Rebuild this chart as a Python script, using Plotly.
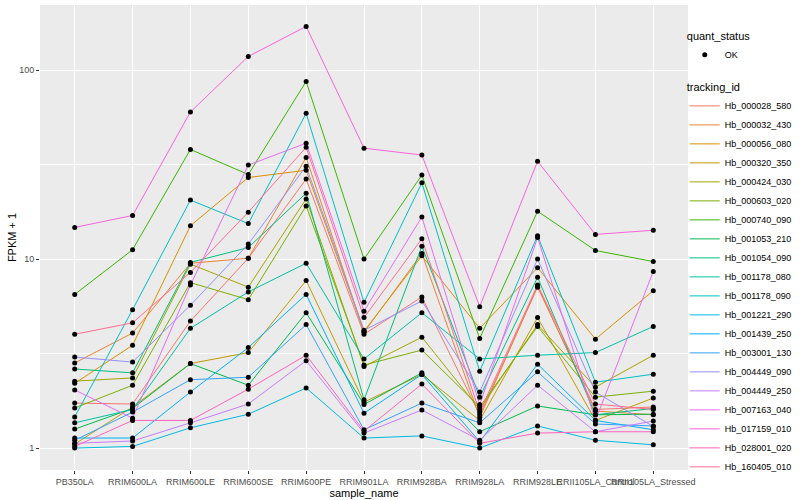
import plotly.graph_objects as go

samples = ["PB350LA", "RRIM600LA", "RRIM600LE", "RRIM600SE", "RRIM600PE",
           "RRIM901LA", "RRIM928BA", "RRIM928LA", "RRIM928LE",
           "RRII105LA_Control", "RRII105LA_Stressed"]

tracking_ids = ["Hb_000028_580", "Hb_000032_430", "Hb_000056_080", "Hb_000320_350",
                "Hb_000424_030", "Hb_000603_020", "Hb_000740_090", "Hb_001053_210",
                "Hb_001054_090", "Hb_001178_080", "Hb_001178_090", "Hb_001221_290",
                "Hb_001439_250", "Hb_003001_130", "Hb_004449_090", "Hb_004449_250",
                "Hb_007163_040", "Hb_017159_010", "Hb_028001_020", "Hb_160405_010"]

colors = ["#F8766D", "#EA8331", "#D89000", "#C09B00", "#A3A500", "#7CAE00",
          "#39B600", "#00BB4E", "#00BF7D", "#00C1A3", "#00BFC4", "#00BAE0",
          "#00B0F6", "#35A2FF", "#9590FF", "#C77CFF", "#E76BF3", "#FA62DB",
          "#FF62BC", "#FF6C91"]

# FPKM + 1 per sample (order of `samples`)
hb_000028_580 = [1.73, 1.71, 4.7, 10.1, 26.5, 4.0, 6.3, 1.5, 7.1, 1.6, 1.65]
hb_000032_430 = [2.82, 4.06, 9.5, 10.1, 34.5, 4.1, 10.7, 1.45, 7.2, 1.57, 1.5]
hb_000056_080 = [2.2, 3.5, 15.0, 27.0, 29.5, 4.15, 10.4, 4.3, 9.0, 3.77, 6.8]
hb_000320_350 = [1.05, 1.65, 2.8, 3.2, 7.7, 1.75, 2.45, 1.4, 4.9, 1.4, 1.84]
hb_000424_030 = [2.26, 2.35, 9.4, 7.1, 20.8, 2.7, 3.86, 1.6, 4.5, 2.1, 3.1]
hb_000603_020 = [1.63, 2.15, 7.5, 6.1, 19.1, 2.75, 3.3, 1.65, 4.4, 1.86, 2.0]
hb_000740_090 = [6.5, 11.2, 38.0, 28.0, 87.0, 10.0, 27.8, 3.8, 17.9, 11.1, 9.7]
hb_001053_210 = [1.26, 1.62, 2.8, 2.15, 5.2, 1.7, 2.5, 1.22, 1.67, 1.5, 1.51]
hb_001054_090 = [2.62, 2.5, 9.6, 11.5, 22.3, 1.8, 11.7, 1.86, 8.0, 1.5, 1.62]
hb_001178_080 = [1.36, 1.6, 4.3, 6.7, 9.5, 2.96, 5.2, 2.96, 3.1, 3.2, 4.4]
hb_001178_090 = [1.46, 5.4, 20.5, 15.4, 59.0, 5.9, 25.3, 2.55, 13.3, 2.23, 2.46]
hb_001221_290 = [1.0, 1.02, 1.28, 1.51, 2.08, 1.13, 1.16, 1.0, 1.31, 1.1, 1.04]
hb_001439_250 = [1.13, 1.13, 1.98, 3.4, 6.5, 1.53, 2.45, 1.08, 2.78, 1.4, 1.25]
hb_003001_130 = [1.1, 1.55, 2.3, 2.37, 4.5, 1.25, 1.73, 1.36, 2.53, 1.34, 1.31]
hb_004449_090 = [3.03, 2.85, 5.7, 12.0, 31.0, 4.2, 6.0, 1.98, 10.0, 1.98, 1.3]
hb_004449_250 = [1.06, 1.09, 1.36, 1.71, 2.9, 1.2, 1.59, 1.1, 2.15, 1.22, 1.39]
hb_007163_040 = [2.03, 1.44, 7.3, 31.4, 41.0, 5.3, 16.7, 1.7, 13.0, 1.4, 8.6]
hb_017159_010 = [14.7, 17.0, 60.0, 118.0, 170.0, 38.6, 35.5, 5.6, 32.9, 13.5, 14.2]
hb_028001_020 = [1.02, 1.4, 1.4, 2.05, 3.1, 1.23, 2.18, 1.06, 1.2, 1.22, 1.22]
hb_160405_010 = [4.0, 4.6, 8.5, 17.7, 39.0, 4.9, 12.8, 1.55, 7.3, 1.71, 1.6]

series_values = [hb_000028_580, hb_000032_430, hb_000056_080, hb_000320_350,
                 hb_000424_030, hb_000603_020, hb_000740_090, hb_001053_210,
                 hb_001054_090, hb_001178_080, hb_001178_090, hb_001221_290,
                 hb_001439_250, hb_003001_130, hb_004449_090, hb_004449_250,
                 hb_007163_040, hb_017159_010, hb_028001_020, hb_160405_010]

y_ticks = [1, 10, 100]
y_minor = [0.316, 3.16, 31.6, 316]

fig = go.Figure()

for name, vals, col in zip(tracking_ids, series_values, colors):
    fig.add_trace(go.Scatter(x=samples, y=vals, mode="lines", name=name,
                             line=dict(color=col, width=1), legend="legend",
                             hoverinfo="skip"))

all_x = [s for vals in series_values for s in samples]
all_y = [v for vals in series_values for v in vals]
fig.add_trace(go.Scatter(x=all_x, y=all_y, mode="markers", name="OK",
                         marker=dict(color="black", size=5), legend="legend2"))

font = "Liberation Sans, Arial, sans-serif"
fig.update_layout(
    width=800, height=500,
    margin=dict(l=40, r=112, t=5, b=30, autoexpand=False),
    paper_bgcolor="white", plot_bgcolor="#EBEBEB",
    font=dict(family=font, size=9, color="#4D4D4D"),
    xaxis=dict(type="category", range=[-0.6, 10.6], showgrid=True, gridcolor="white",
               gridwidth=1.1, zeroline=False, ticks="outside", ticklen=3,
               tickcolor="#333333", tickangle=0, tickfont=dict(size=9, color="#4D4D4D"),
               automargin=False,
               title=dict(text="sample_name", font=dict(size=11, color="black"), standoff=2)),
    yaxis=dict(type="log", range=[-0.116, 2.344], tickmode="array", tickvals=y_ticks,
               ticktext=[str(t) for t in y_ticks], showgrid=True, gridcolor="white",
               gridwidth=1.1, zeroline=False, ticks="outside", ticklen=3,
               tickcolor="#333333", tickfont=dict(size=9, color="#4D4D4D"),
               automargin=False,
               minor=dict(tickmode="array", tickvals=y_minor, showgrid=True,
                          gridcolor="white", gridwidth=0.5, ticks=""),
               title=dict(text="FPKM + 1", font=dict(size=11, color="black"), standoff=0)),
    legend=dict(title=dict(text="tracking_id", font=dict(size=11, color="black")),
                x=0.995, xanchor="left", y=0.845, yanchor="top",
                font=dict(size=9, color="black"), itemwidth=30,
                bgcolor="rgba(0,0,0,0)", tracegroupgap=0),
    legend2=dict(title=dict(text="quant_status", font=dict(size=11, color="black")),
                 x=0.995, xanchor="left", y=0.955, yanchor="top",
                 font=dict(size=9, color="black"), itemwidth=30,
                 bgcolor="rgba(0,0,0,0)"),
    showlegend=True,
)

fig.write_html("out.html", config={"displayModeBar": False},
               post_script="document.body.style.margin='0';")
